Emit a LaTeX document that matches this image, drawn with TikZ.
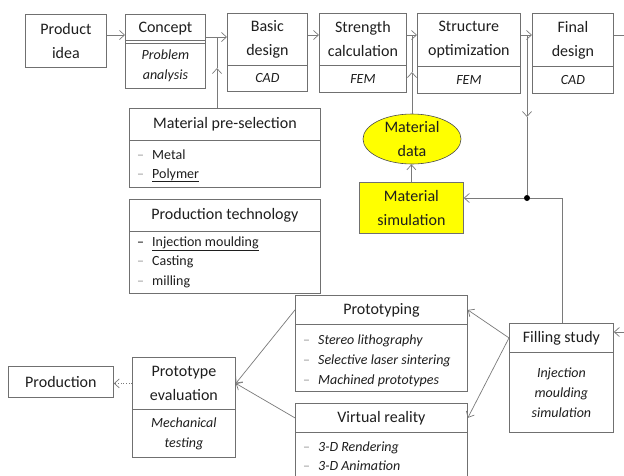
\documentclass[tikz,border=0pt]{standalone}
\usepackage{fontspec}
\setmainfont{Carlito}
\usetikzlibrary{arrows.meta,calc,shapes.geometric}
\definecolor{lnc}{HTML}{7A7A7A}
\definecolor{bdc}{HTML}{707070}
\definecolor{txc}{HTML}{1E1E1E}
\definecolor{dshc}{HTML}{9A9A9A}
\definecolor{yelc}{HTML}{FFFF00}
\newcommand\dsh{\textcolor{dshc}{–}\hspace{8pt}}
\tikzset{
  box/.style={draw=bdc, line width=0.8pt, anchor=north west, inner sep=0pt, align=center, text=txc, font=\fontsize{16}{24}\selectfont},
  subbox/.style={box, font=\fontsize{14}{20}\selectfont\itshape},
  itm/.style={anchor=west, inner sep=0pt, text height=9pt, text depth=3pt, text=txc, font=\fontsize{14}{20}\selectfont},
  arr/.style={draw=lnc, line width=0.7pt, -{Straight Barb[length=5pt,width=9pt]}},
  wire/.style={draw=lnc, line width=0.7pt},
  dotnode/.style={circle, fill=black, inner sep=0pt, minimum size=6pt},
}
\begin{document}
\begin{tikzpicture}[x=1pt,y=-1pt]
\path[use as bounding box, fill=white] (0,0) rectangle (624,475);
\clip (0,0) rectangle (624,475);

% top row
\node[box, minimum width=81, minimum height=53] (idea) at (25,14) {Product\\idea};
\node[box, minimum width=80, minimum height=29] (cpt) at (125,14) {Concept};
\draw[draw=bdc, line width=0.8pt] ($(cpt.south west)+(0,-3)$) -- ($(cpt.south east)+(0,-3)$);
\node[subbox, minimum width=80, minimum height=45] (cptb) at (125,43) {Problem\\analysis};
\node[box, minimum width=80, minimum height=52] (bas) at (227,13) {Basic\\design};
\node[subbox, minimum width=80, minimum height=26] (basb) at (227,65) {CAD};
\node[box, minimum width=87, minimum height=52] (str) at (319,13) {Strength\\calculation};
\node[subbox, minimum width=87, minimum height=27] (strb) at (319,65) {FEM};
\node[box, minimum width=103, minimum height=53] (opt) at (417,13) {Structure\\optimization};
\node[subbox, minimum width=103, minimum height=27] (optb) at (417,66) {FEM};
\node[box, minimum width=81, minimum height=53] (fin) at (532,13) {Final\\design};
\node[subbox, minimum width=81, minimum height=27] (finb) at (532,66) {CAD};

% material pre-selection
\node[box, minimum width=191, minimum height=32] (mp) at (129,108) {Material pre-selection};
\node[box, minimum width=191, minimum height=47] (mpb) at (129,140) {};
\node[itm] (mp1) at (137,156) {\dsh Metal};
\node[itm] (mp2) at (137,175) {\dsh \underline{Polymer}};

% production technology
\node[box, minimum width=191, minimum height=32] (pt) at (129,199) {Production technology};
\node[box, minimum width=191, minimum height=62] (ptb) at (129,231) {};
\node[itm] (pt1) at (137,243) {\textcolor{black}{–}\hspace{8pt}\underline{Injection moulding}};
\node[itm] (pt2) at (137,262) {\dsh Casting};
\node[itm] (pt3) at (137,282) {\dsh milling};

% material data / simulation
\node[ellipse, draw=black!70, line width=0.6pt, fill=yelc, minimum width=98, minimum height=50, inner sep=0pt, align=center, text=txc, font=\fontsize{16}{24}\selectfont] (md) at (412,139) {Material\\data};
\node[box, fill=yelc, minimum width=104, minimum height=51] (ms) at (359,182) {Material\\simulation};

% prototyping
\node[box, minimum width=172, minimum height=29] (pro) at (295,295) {Prototyping};
\node[box, minimum width=172, minimum height=67] (prob) at (295,324) {};
\node[itm] (pro1) at (303,341) {\dsh\textit{Stereo lithography}};
\node[itm] (pro2) at (303,361) {\dsh\textit{Selective laser sintering}};
\node[itm] (pro3) at (303,381) {\dsh\textit{Machined prototypes}};

% virtual reality
\node[box, minimum width=172, minimum height=29] (vr) at (295,403) {Virtual reality};
\node[box, minimum width=172, minimum height=70] (vrb) at (295,432) {};
\node[itm] (vr1) at (303,448) {\dsh\textit{3-D Rendering}};
\node[itm] (vr2) at (303,467) {\dsh\textit{3-D Animation}};

% filling study
\node[box, minimum width=104, minimum height=29] (fs) at (509,323) {Filling study};
\node[subbox, minimum width=104, minimum height=80] (fsb) at (509,352) {Injection\\moulding\\simulation};

% prototype evaluation
\node[box, minimum width=103, minimum height=52] (pe) at (132,357) {Prototype\\evaluation};
\node[subbox, minimum width=103, minimum height=48] (peb) at (132,409) {Mechanical\\testing};
\node[box, minimum width=105, minimum height=31] (prod) at (8,366) {Production};

% connectors
\coordinate (rail) at (0,35);
\coordinate (rail2) at (0,37);
\draw[arr] (idea.east |- rail) -- (cpt.west |- rail);
\draw[arr] (cpt.east |- rail2) -- (bas.west |- rail2);
\coordinate (j1) at (217,37);
\coordinate (t1) at (217,68);
\draw[arr] (j1 |- mp.north) -- (t1);
\draw[wire] (t1) -- (j1);
\draw[arr] (bas.east |- rail) -- (str.west |- rail);
\draw[arr] (str.east |- rail) -- (opt.west |- rail);
\coordinate (t2) at (412,72);
\draw[arr] (md.north) -- (t2);
\draw[wire] (t2) -- (md.north |- rail);
\draw[arr] (opt.east |- rail) -- (fin.west |- rail);
\coordinate (edge1) at (624,35);
\draw[wire] (fin.east |- rail) -- (edge1);
\coordinate (j3) at (527,35);
\coordinate (t3) at (527,117);
\node[dotnode] (dot) at (527,198) {};
\draw[arr] (j3) -- (t3);
\draw[wire] (t3) -- (dot);
\draw[arr] (dot) -- (ms.east |- dot);
\coordinate (k) at (562,198);
\draw[wire] (fs.north -| k) -- (k) -- (dot);
\draw[arr] (ms.north) -- (ms.north |- md.south);
\coordinate (edge2) at (624,332);
\draw[arr] (edge2) -- (fs.east |- edge2);
\draw[arr] (fs.west) -- (pro.east);
\draw[arr] (fs.west) -- (vr.east);
\draw[arr] (pro.west) -- (pe.east);
\draw[arr] (vr.west) -- (pe.east);
\draw[arr, dotted] (pe.west) -- (prod.east |- pe.west);
\end{tikzpicture}
\end{document}
